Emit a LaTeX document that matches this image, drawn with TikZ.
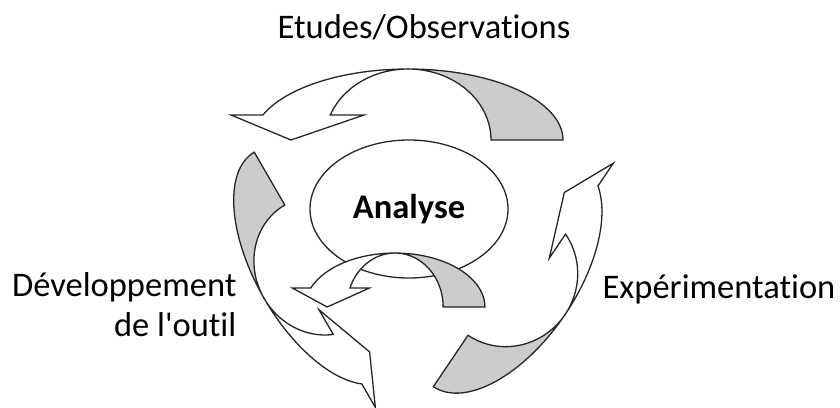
\documentclass[tikz,border=0pt]{standalone}
\usepackage{fontspec}
\setmainfont{Carlito}[Ligatures=NoCommon]
\usetikzlibrary{shapes.geometric}

\begin{document}
\begin{tikzpicture}[
  x=1pt, y=-1pt,
  font=\fontsize{34.5}{40}\selectfont,
  line width=1.3pt,
  samples=40,
  outline/.style={draw=black!85},
  backface/.style={outline, fill=black!20},
  frontface/.style={outline, fill=white},
  txt/.style={inner sep=0pt},
  twistarrow/.pic={
    % tail part, seen from behind
    \filldraw[backface] plot[domain=0:90] ({155*cos(\x)},{-71*sin(\x)})
      -- plot[domain=90:0] ({83*cos(\x)},{-71*sin(\x)}) -- cycle;
    % front part with the head
    \filldraw[frontface] plot[domain=90:159.4] ({155*cos(\x)},{-71*sin(\x)})
      -- (-177,-25) -- (-117,0) -- (-44,-25)
      -- plot[domain=159.4:90] ({83*cos(\x)},{-71*sin(\x)}) -- cycle;
  }
]
\useasboundingbox (0,0) rectangle (840,407);

% the three arrows of the cycle
\pic at (408,140) {twistarrow};
\pic[rotate=-124, xscale=0.861, yscale=0.97] at (508,276) {twistarrow};
\pic[rotate=120, xscale=0.848, yscale=0.91] at (320,266) {twistarrow};

\node[ellipse, outline, fill=white, minimum width=198pt, minimum height=138pt,
      inner sep=0pt, font=\fontsize{34.5}{40}\selectfont\bfseries] (analyse) at (409,209) {Analyse};
\pic[xscale=0.58, yscale=0.76] at (395,307) {twistarrow};

\node[txt, anchor=base] (etudes) at (424,38) {Etudes/Observations};
\node[txt, anchor=base west] (experim) at (602,298) {Expérimentation};
\node[txt, anchor=base east, align=right] (devel) at (237,336)
  {Développement\\de l\textquotesingle outil};

\end{tikzpicture}
\end{document}
